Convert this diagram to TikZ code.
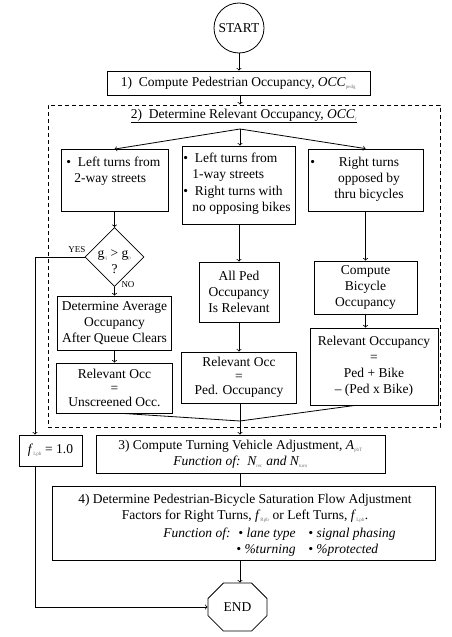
\documentclass[tikz,border=0pt]{standalone}
\usepackage{fontspec}
\setmainfont{Liberation Serif}
\usetikzlibrary{shapes.geometric,shapes.misc}
\newcommand{\lo}[1]{\textsubscript{\fontsize{5}{5}\selectfont\upshape\color{black!55}#1}}
\tikzset{
  box/.style={draw, rectangle, inner sep=0pt, align=center},
  txt/.style={inner sep=0pt, align=left},
  eqbox/.style={box, font=\fontsize{13.5}{14}\selectfont},
  yn/.style={inner sep=0pt, font=\fontsize{9}{9}\selectfont},
}
\begin{document}
\begin{tikzpicture}[x=1pt, y=-1pt, >=to, line width=0.8pt, font=\fontsize{13.5}{16}\selectfont]
  \useasboundingbox (0,0) rectangle (452,637);

  % Start
  \node[draw, circle, minimum size=50, inner sep=0pt] (start) at (239,28) {START};

  % Step 1
  \node[box, minimum width=263, minimum height=24] (ped) at (238.5,83) {1)\ \ Compute Pedestrian Occupancy, \textit{OCC}\lo{pedg}};
  \draw[->] (start) -- (start |- ped.north);

  % Step 2 (dashed frame)
  \node[box, dash pattern=on 4pt off 3pt, minimum width=392, minimum height=322] (rel) at (244,266) {};
  \node[txt] (reltitle) at (244,116) {\underline{2)\ \ Determine Relevant Occupancy, \textit{OCC}\lo{r}}};
  \coordinate (br) at (240,129);
  \draw[->] (br |- ped.south) -- (br |- rel.north);

  % three cases
  \node[box, minimum width=107, minimum height=62] (twoway) at (114.5,180.5) {};
  \node[txt, anchor=north west] (twowaytxt) at (66,156.5) {\textbullet\ \ Left turns from\\\hspace*{8pt}2-way streets};
  \node[box, minimum width=113, minimum height=78] (oneway) at (239,185) {};
  \node[txt, anchor=north west] (onewaytxt) at (183,152.5) {\textbullet\ \ Left turns from\\\hspace*{9pt}1-way streets\\[1pt]\textbullet\ \ Right turns with\\\hspace*{9pt}no opposing bikes};
  \node[box, minimum width=115, minimum height=62] (thru) at (365.5,180) {};
  \node[txt, align=center, anchor=north] (thrutxt) at (369,156.5) {Right turns\\opposed by\\thru bicycles};
  \node[inner sep=0pt, anchor=base west] (thrubul) at (310,166) {\textbullet};
  \draw[->] (br) -- (twoway.north);
  \draw[->] (br) -- (br |- oneway.north);
  \draw[->] (br) -- (thru.north);

  % left column
  \node[draw, diamond, minimum width=59, minimum height=59, inner sep=0pt] (gap) at (114.5,257) {};
  \node[inner sep=0pt, align=center] (gaptxt) at (114.5,262) {g\lo{q} > g\lo{p}\\?};
  \node[yn] (yes) at (77,250) {YES};
  \node[yn] (no) at (128,285) {NO};
  \node[box, minimum width=114, minimum height=54] (avg) at (114.5,323) {Determine Average\\Occupancy\\After Queue Clears};
  \node[eqbox, minimum width=116, minimum height=50] (unscr) at (114.5,388) {Relevant Occ\\=\\Unscreened Occ.};
  \draw[->] (twoway) -- (gap);
  \draw[->] (gap) -- (avg);
  \draw[->] (avg) -- (unscr);

  % middle column
  \node[box, minimum width=80, minimum height=60] (allped) at (239,292) {All Ped\\Occupancy\\Is Relevant};
  \node[eqbox, minimum width=115, minimum height=51] (pedocc) at (239,377.5) {Relevant Occ\\=\\Ped. Occupancy};
  \draw[->] (oneway) -- (allped);
  \draw[->] (allped) -- (pedocc);

  % right column
  \node[box, minimum width=103, minimum height=53] (bike) at (365.5,287.5) {Compute\\Bicycle\\Occupancy};
  \node[box, minimum width=128, minimum height=77] (pedbike) at (374,366.5) {Relevant Occupancy\\=\\Ped + Bike\\– (Ped x Bike)};
  \draw[->] (thru) -- (bike);
  \draw[->] (bike.south) -- (bike.south |- pedbike.north);

  % merge
  \coordinate (mrg) at (240,421);
  \draw ([xshift=8pt]unscr.south) -- (mrg);
  \draw ([xshift=-19pt]pedbike.south) -- (mrg);
  \draw (mrg |- pedocc.south) -- (mrg);

  % step 3 and f_Lpb
  \node[box, minimum width=289, minimum height=38] (turn) at (240.5,454) {3) Compute Turning Vehicle Adjustment, \textit{A}\lo{pbT}\\\textit{Function of:\ \ N\lo{rec} and N\lo{turn}}};
  \node[box, minimum width=63, minimum height=31] (flpb) at (50.5,450.5) {\textit{f}\lo{Lpb} = 1.0};
  \draw[->] (mrg) -- (mrg |- turn.north);
  \draw[->] (gap.west) -| ([xshift=-15.5pt]flpb.north);

  % step 4
  \node[box, minimum width=383, minimum height=74] (sat) at (243.5,523) {};
  \node[txt, align=center, anchor=north] (sattxt) at (245,493.5) {4) Determine Pedestrian-Bicycle Saturation Flow Adjustment\\Factors for Right Turns, \textit{f}\lo{Rpb} or Left Turns, \textit{f}\lo{Lpb}.};
  \node[txt, anchor=north west] (satfn) at (163,527.5) {\itshape\makebox[75pt][l]{Function of:}\makebox[70pt][l]{\textbullet\ lane type}\textbullet\ signal phasing\\\itshape\hspace*{73pt}\makebox[72pt][l]{\textbullet\ \%turning}\textbullet\ \%protected};
  \draw (turn.south) -- (turn.south |- sat.north);

  % End
  \node[draw, chamfered rectangle, chamfered rectangle xsep=15pt, chamfered rectangle ysep=11pt, minimum width=59, minimum height=48, inner sep=0pt] (end) at (237.5,607) {END};
  \draw[->] (mrg |- sat.south) -- (mrg |- end.north);
  \draw[->] ([xshift=-15.5pt]flpb.south) |- (end.west);
\end{tikzpicture}
\end{document}
